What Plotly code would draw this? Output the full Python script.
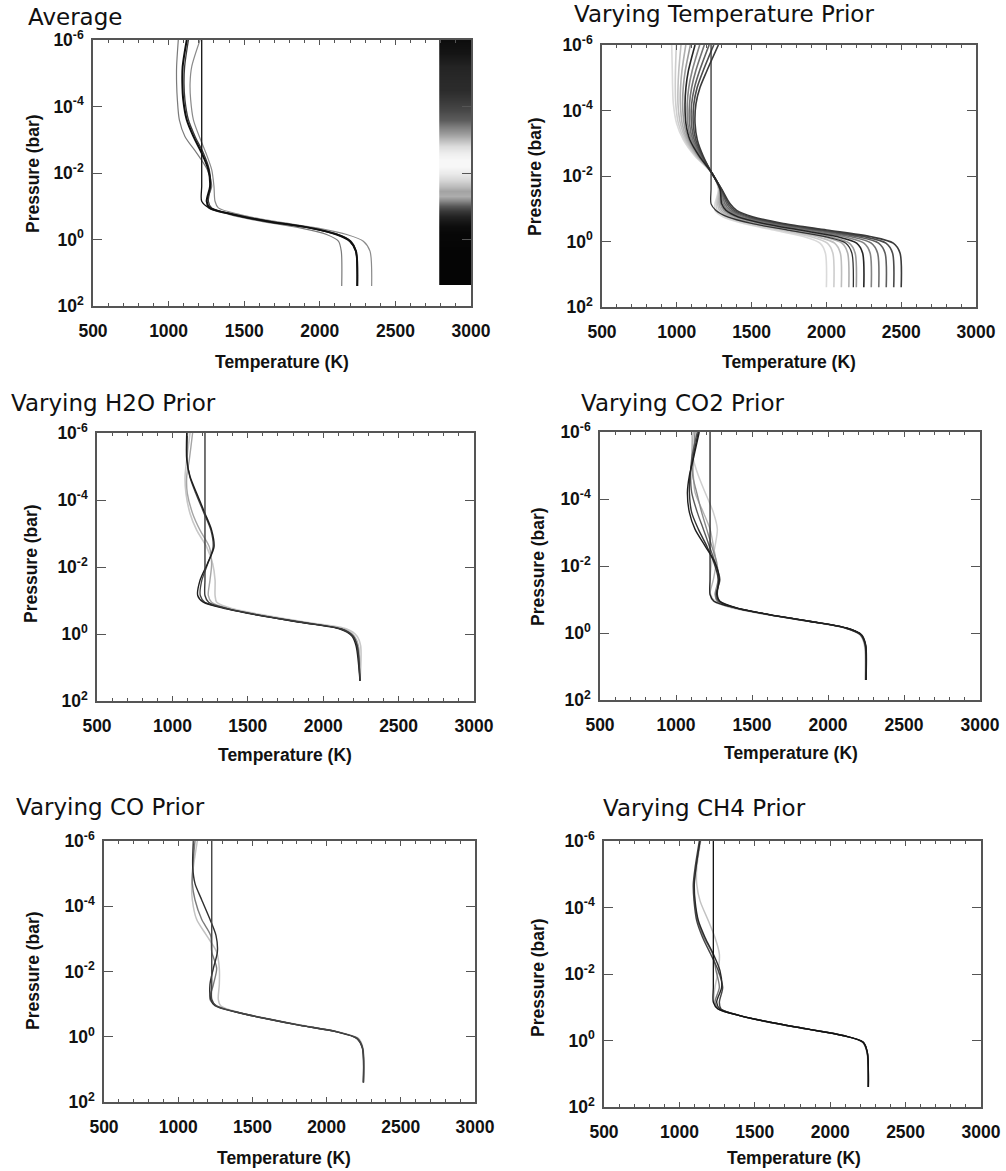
import plotly.graph_objects as go

W, H = 1006, 1171

# ---------------- data ----------------
LOG10_P = [-6, -5.2, -4.7, -4.2, -3.6, -3.1, -2.6, -2.1, -1.6, -1.15, -0.95,
           -0.75, -0.55, -0.35, -0.15, 0.05, 0.35, 1.4]
PRESSURE = [10 ** v for v in LOG10_P]

X_TICKS = [500, 1000, 1500, 2000, 2500, 3000]
Y_TICKS = [1e-6, 1e-4, 1e-2, 1, 100]
Y_TICKTEXT = ["10<sup>-6</sup>", "10<sup>-4</sup>", "10<sup>-2</sup>", "10<sup>0</sup>", "10<sup>2</sup>"]

TITLES = ["Average", "Varying Temperature Prior", "Varying H2O Prior",
          "Varying CO2 Prior", "Varying CO Prior", "Varying CH4 Prior"]

# Average panel
AVG_BLACK = [1120, 1093, 1091, 1097, 1120, 1164, 1219, 1263, 1274, 1252, 1274, 1428, 1649, 1935, 2112, 2200, 2239, 2248]
AVG_DARK = [1131, 1106, 1102, 1108, 1131, 1175, 1230, 1269, 1278, 1263, 1285, 1439, 1660, 1946, 2123, 2206, 2239, 2248]
AVG_LEFT = [1064, 1053, 1053, 1058, 1071, 1108, 1186, 1256, 1285, 1252, 1263, 1406, 1605, 1869, 2045, 2123, 2142, 2145]
AVG_RIGHT = [1208, 1153, 1142, 1146, 1164, 1203, 1247, 1285, 1300, 1307, 1329, 1472, 1693, 1979, 2178, 2288, 2332, 2343]
AVG_PRIOR = [1219, 1219, 1219, 1219, 1219, 1219, 1219, 1219, 1219, 1219, 1268, 1425, 1645, 1930, 2110, 2198, 2238, 2248]

# colour strip in the Average panel (grey level 0 = black, 1 = white), values at strip levels
CB_LOG10_P = [-6, -5.6, -5.2, -4.8, -4.5, -4.2, -3.9, -3.6, -3.4, -3.2, -3.0, -2.8, -2.6, -2.4,
              -2.2, -2.0, -1.8, -1.6, -1.45, -1.3, -1.15, -1.0, -0.85, -0.7, -0.55, -0.4, -0.2, 0.3,
              1.3, 1.34]
CB_GRAY = [0.05, 0.08, 0.14, 0.16, 0.17, 0.22, 0.28, 0.36, 0.48, 0.6, 0.74, 0.86, 0.93, 0.97,
           0.97, 0.92, 0.84, 0.74, 0.64, 0.68, 0.52, 0.34, 0.22, 0.14, 0.09, 0.05, 0.03, 0.02,
           0.02, 0.02]
CB_T = [2842.5, 2947.5]   # column centres of a strip spanning 2790-3000 K

# Varying temperature prior (bottom temperature 2000 ... 2500 K)
TP_2000 = [966, 970, 972, 977, 999, 1044, 1122, 1233, 1278, 1255, 1255, 1311, 1445, 1645, 1846, 1957, 1993, 2000]
TP_2050 = [997, 991, 990, 993, 1011, 1053, 1128, 1233, 1280, 1264, 1270, 1331, 1472, 1681, 1891, 2006, 2043, 2050]
TP_2100 = [1028, 1013, 1008, 1008, 1024, 1062, 1134, 1233, 1282, 1273, 1285, 1351, 1498, 1716, 1935, 2055, 2093, 2100]
TP_2150 = [1060, 1034, 1025, 1024, 1036, 1070, 1139, 1233, 1285, 1282, 1299, 1371, 1525, 1752, 1980, 2104, 2142, 2150]
TP_2200 = [1091, 1056, 1043, 1039, 1049, 1079, 1145, 1233, 1287, 1291, 1314, 1391, 1551, 1787, 2024, 2153, 2192, 2200]
TP_2250 = [1122, 1077, 1061, 1055, 1061, 1088, 1151, 1233, 1289, 1300, 1329, 1411, 1578, 1823, 2069, 2202, 2242, 2250]
TP_2300 = [1153, 1102, 1080, 1070, 1073, 1098, 1156, 1233, 1291, 1311, 1343, 1431, 1605, 1859, 2113, 2251, 2292, 2300]
TP_2350 = [1184, 1126, 1099, 1085, 1085, 1107, 1161, 1233, 1293, 1322, 1357, 1452, 1632, 1894, 2158, 2300, 2342, 2350]
TP_2400 = [1216, 1151, 1118, 1099, 1098, 1117, 1167, 1233, 1296, 1334, 1372, 1472, 1658, 1930, 2202, 2349, 2392, 2400]
TP_2450 = [1247, 1175, 1136, 1114, 1110, 1127, 1172, 1233, 1298, 1345, 1386, 1492, 1685, 1966, 2247, 2398, 2442, 2450]
TP_2500 = [1278, 1200, 1155, 1128, 1122, 1137, 1177, 1233, 1300, 1356, 1400, 1512, 1712, 2002, 2291, 2447, 2492, 2500]
TP_PRIOR = [1229, 1229, 1229, 1229, 1229, 1229, 1229, 1229, 1229, 1229, 1262, 1340, 1500, 1740, 1990, 2130, 2170, 2180]

# Varying H2O prior
H2O_D1 = [1095, 1095, 1117, 1161, 1216, 1260, 1276, 1232, 1183, 1168, 1205, 1360, 1581, 1846, 2111, 2189, 2218, 2244]
H2O_D2 = [1100, 1098, 1115, 1155, 1210, 1255, 1270, 1235, 1195, 1185, 1215, 1370, 1590, 1855, 2120, 2195, 2225, 2244]
H2O_L1 = [1117, 1095, 1084, 1090, 1117, 1161, 1227, 1267, 1283, 1283, 1294, 1404, 1625, 1890, 2156, 2222, 2248, 2244]
H2O_L2 = [1134, 1112, 1095, 1099, 1134, 1183, 1245, 1260, 1249, 1238, 1260, 1382, 1603, 1868, 2134, 2204, 2233, 2244]
H2O_PRIOR = [1216, 1216, 1216, 1216, 1216, 1216, 1216, 1216, 1216, 1216, 1240, 1370, 1590, 1855, 2120, 2195, 2225, 2244]

# Varying CO2 prior
CO2_B1 = [1153, 1114, 1088, 1075, 1088, 1125, 1191, 1257, 1285, 1268, 1289, 1399, 1618, 1882, 2123, 2221, 2248, 2250]
CO2_B2 = [1147, 1110, 1092, 1088, 1103, 1147, 1202, 1250, 1278, 1272, 1285, 1395, 1612, 1877, 2118, 2217, 2246, 2250]
CO2_G1 = [1140, 1103, 1096, 1103, 1140, 1180, 1219, 1257, 1289, 1263, 1278, 1390, 1608, 1872, 2115, 2214, 2244, 2250]
CO2_G2 = [1125, 1114, 1110, 1136, 1169, 1202, 1235, 1268, 1278, 1257, 1272, 1388, 1605, 1870, 2112, 2212, 2243, 2250]
CO2_L1 = [1103, 1114, 1147, 1191, 1246, 1272, 1257, 1235, 1224, 1228, 1257, 1366, 1596, 1871, 2112, 2210, 2239, 2243]
CO2_L2 = [1114, 1103, 1114, 1125, 1180, 1224, 1246, 1263, 1246, 1224, 1246, 1377, 1601, 1875, 2117, 2214, 2242, 2250]
CO2_PRIOR = [1224, 1224, 1224, 1224, 1224, 1224, 1224, 1224, 1224, 1224, 1250, 1390, 1610, 1875, 2118, 2217, 2246, 2250]

# Varying CO prior
CO_DARK = [1102, 1098, 1113, 1158, 1214, 1255, 1264, 1237, 1214, 1219, 1248, 1394, 1596, 1821, 2068, 2203, 2241, 2248]
CO_LIGHT = [1129, 1102, 1091, 1095, 1124, 1192, 1259, 1277, 1277, 1270, 1286, 1405, 1607, 1832, 2079, 2214, 2245, 2248]
CO_MID = [1113, 1098, 1095, 1113, 1158, 1219, 1226, 1259, 1237, 1214, 1259, 1400, 1600, 1826, 2073, 2208, 2243, 2248]
CO_PRIOR = [1226, 1226, 1226, 1226, 1226, 1226, 1226, 1226, 1226, 1226, 1255, 1398, 1598, 1824, 2070, 2205, 2242, 2248]

# Varying CH4 prior
CH4_D1 = [1137, 1110, 1099, 1104, 1126, 1170, 1225, 1269, 1280, 1247, 1269, 1402, 1601, 1844, 2087, 2220, 2246, 2253]
CH4_D2 = [1132, 1104, 1092, 1097, 1115, 1154, 1207, 1258, 1287, 1265, 1276, 1398, 1597, 1840, 2083, 2217, 2245, 2253]
CH4_LT = [1141, 1115, 1115, 1137, 1192, 1236, 1265, 1258, 1236, 1229, 1258, 1395, 1594, 1836, 2080, 2214, 2243, 2253]
CH4_MD = [1137, 1110, 1097, 1101, 1121, 1163, 1221, 1243, 1265, 1236, 1260, 1400, 1599, 1842, 2085, 2218, 2245, 2253]
CH4_PRIOR = [1225, 1225, 1225, 1225, 1225, 1225, 1225, 1225, 1225, 1225, 1255, 1400, 1600, 1842, 2085, 2218, 2246, 2253]

# ---------------- styling / layout ----------------
# plot-area boxes in pixels: (left, right, top, bottom)
BOXES = [(93, 471, 40, 306), (602, 976, 45, 307), (97, 474, 433, 701),
         (600, 980, 432, 700), (104, 475, 841, 1102), (604, 981, 841, 1107)]

PANEL_CURVES = [
    [(AVG_LEFT, "#7a7a7a", 1.2), (AVG_RIGHT, "#8a8a8a", 1.2), (AVG_DARK, "#3a3a3a", 1.3),
     (AVG_BLACK, "#111111", 2.0), (AVG_PRIOR, "#111111", 1.3)],
    [(TP_2000, "#dadada", 1.6), (TP_2050, "#cdcdcd", 1.6), (TP_2100, "#bfbfbf", 1.6),
     (TP_2150, "#afafaf", 1.6), (TP_2200, "#9a9a9a", 1.6), (TP_2300, "#858585", 1.6),
     (TP_2350, "#717171", 1.6), (TP_2400, "#5e5e5e", 1.6), (TP_2450, "#4b4b4b", 1.6),
     (TP_2500, "#3a3a3a", 1.6), (TP_2250, "#262626", 1.6), (TP_PRIOR, "#333333", 1.3)],
    [(H2O_L1, "#c8c8c8", 1.6), (H2O_L2, "#a5a5a5", 1.4), (H2O_D2, "#444444", 1.3),
     (H2O_D1, "#1e1e1e", 1.4), (H2O_PRIOR, "#3a3a3a", 1.4)],
    [(CO2_L1, "#cfcfcf", 1.5), (CO2_L2, "#b3b3b3", 1.4), (CO2_G2, "#8a8a8a", 1.4),
     (CO2_G1, "#5a5a5a", 1.4), (CO2_B2, "#333333", 1.4), (CO2_B1, "#1e1e1e", 1.4),
     (CO2_PRIOR, "#222222", 1.3)],
    [(CO_LIGHT, "#c2c2c2", 1.5), (CO_MID, "#7a7a7a", 1.4), (CO_DARK, "#2e2e2e", 1.4),
     (CO_PRIOR, "#444444", 1.4)],
    [(CH4_LT, "#c2c2c2", 1.5), (CH4_MD, "#777777", 1.4), (CH4_D2, "#444444", 1.4),
     (CH4_D1, "#2a2a2a", 1.4), (CH4_PRIOR, "#111111", 1.3)],
]

TITLE_POS = [(26, 17), (572, 14), (9, 403), (579, 403), (14, 807), (601, 808)]
YTITLE_POS = [(33, 174), (535, 177), (31, 564), (538, 567), (33, 971), (538, 978)]
XTITLE_POS = [(282, 362), (789, 362), (285, 755), (791, 753), (284, 1158), (794, 1158)]

TICK_FONT = dict(family="Liberation Sans, Arial, sans-serif", size=17.5, color="#111111", weight="bold")
FRAME = "#555555"

fig = go.Figure()
layout = dict(template="none", width=W, height=H, margin=dict(l=0, r=0, t=0, b=0, pad=0, autoexpand=False),
              paper_bgcolor="white", plot_bgcolor="white", showlegend=False)

for i, (box, curves) in enumerate(zip(BOXES, PANEL_CURVES), start=1):
    xa = "x" if i == 1 else f"x{i}"
    ya = "y" if i == 1 else f"y{i}"
    left, right, top, bottom = box
    layout[f"xaxis{'' if i == 1 else i}"] = dict(
        domain=[left / W, right / W], anchor=ya, range=[500, 3000], automargin=False,
        tickvals=X_TICKS, ticks="inside", ticklen=5, tickwidth=1, tickcolor=FRAME,
        minor=dict(dtick=100, tick0=500, ticks="inside", ticklen=3, tickwidth=1, tickcolor=FRAME,
                   showgrid=False),
        showline=True, linecolor=FRAME, linewidth=1.5, mirror="ticks",
        showgrid=False, zeroline=False, tickfont=TICK_FONT, ticklabelstandoff=8)
    layout[f"yaxis{'' if i == 1 else i}"] = dict(
        domain=[1 - bottom / H, 1 - top / H], anchor=xa, type="log", range=[2, -6], automargin=False,
        tickvals=Y_TICKS, ticktext=Y_TICKTEXT, ticks="inside", ticklen=9, tickwidth=1,
        tickcolor=FRAME, showline=True, linecolor=FRAME, linewidth=1.5, mirror="ticks",
        showgrid=False, zeroline=False, tickfont=TICK_FONT, ticklabelstandoff=4)

    if i == 1:
        fig.add_trace(go.Heatmap(
            x=CB_T, y=[10 ** v for v in CB_LOG10_P],
            z=[[g, g] for g in CB_GRAY], zmin=0, zmax=1, zsmooth="best",
            colorscale=[[0, "black"], [1, "white"]], showscale=False,
            hoverinfo="skip", xaxis=xa, yaxis=ya))

    for temps, color, width in curves:
        fig.add_trace(go.Scatter(
            x=temps, y=PRESSURE, mode="lines",
            line=dict(color=color, width=width, shape="spline", smoothing=0.8),
            xaxis=xa, yaxis=ya, hoverinfo="skip"))

annotations = []
for text, (px, py) in zip(TITLES, TITLE_POS):
    annotations.append(dict(text=text, xref="paper", yref="paper", x=px / W, y=1 - py / H,
                            xanchor="left", yanchor="middle", showarrow=False,
                            font=dict(family="DejaVu Sans", size=23, color="#111111")))
for (px, py) in YTITLE_POS:
    annotations.append(dict(text="Pressure (bar)", xref="paper", yref="paper", x=px / W, y=1 - py / H,
                            xanchor="center", yanchor="middle", textangle=-90, showarrow=False,
                            font=TICK_FONT))
for (px, py) in XTITLE_POS:
    annotations.append(dict(text="Temperature (K)", xref="paper", yref="paper", x=px / W, y=1 - py / H,
                            xanchor="center", yanchor="middle", showarrow=False, font=TICK_FONT))
layout["annotations"] = annotations

fig.update_layout(**layout)
fig.write_html("out.html")
